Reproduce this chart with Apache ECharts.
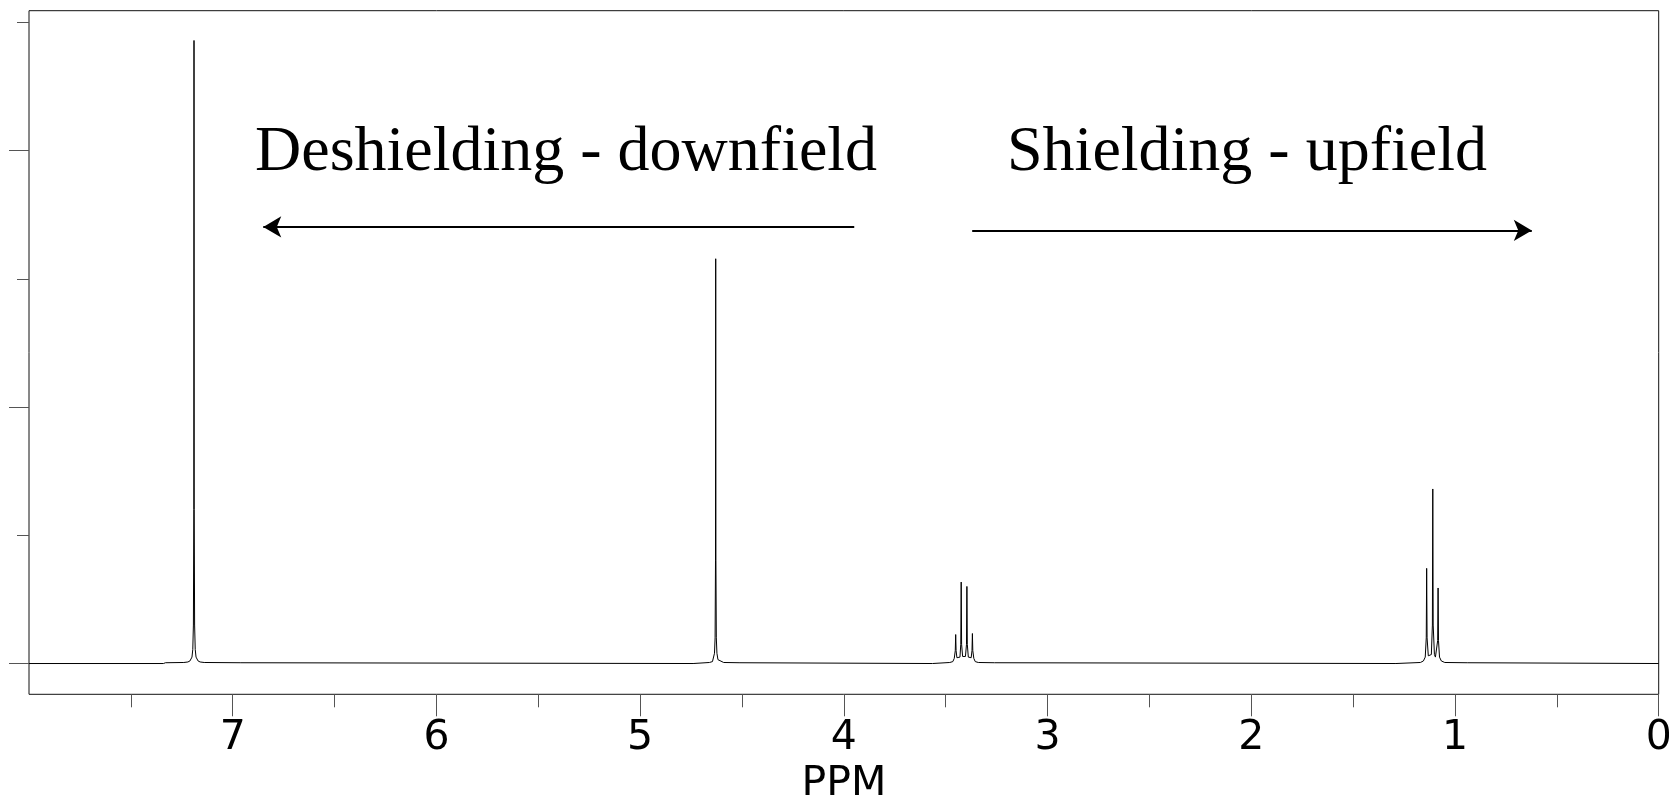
<!DOCTYPE html>
<html>
<head>
<meta charset="utf-8">
<title>1H NMR spectrum</title>
<script src="https://cdn.jsdelivr.net/npm/echarts@6/dist/echarts.min.js"></script>
<style>
  html, body { margin: 0; padding: 0; background: #fff; }
  #chart { width: 1669px; height: 799px; }
</style>
</head>
<body>
<div id="chart"></div>
<script>
// chemical shift (ppm) and relative intensity
const ppm = [
  8.00, 7.34, 7.33, 7.24, 7.22, 7.21, 7.20, 7.196, 7.193, 7.191, 7.190, 7.189, 7.187, 7.184, 7.180, 7.170, 7.160, 7.140, 6.96, 6.955,
  4.74, 4.735, 4.66, 4.645, 4.64, 4.635, 4.632, 4.630, 4.629, 4.628, 4.626, 4.623, 4.618, 4.61, 4.59, 4.51, 4.505,
  3.565, 3.56, 3.48, 3.465, 3.458, 3.453, 3.451, 3.449, 3.445, 3.4375, 3.43, 3.426, 3.424, 3.422, 3.417, 3.41,
  3.403, 3.398, 3.396, 3.394, 3.389, 3.3825, 3.375, 3.371, 3.369, 3.367, 3.362, 3.355, 3.34, 3.26, 3.255,
  1.29, 1.285, 1.17, 1.155, 1.146, 1.141, 1.139, 1.137, 1.131, 1.124, 1.116, 1.111, 1.109, 1.107, 1.101, 1.096,
  1.089, 1.085, 1.083, 1.081, 1.076, 1.067, 1.05, 0.94, 0.935, 0.00
];
const intensity = [
  0, 0, 0.006, 0.008, 0.012, 0.02, 0.05, 0.11, 0.3, 1.2, 4.858, 1.2, 0.3, 0.11, 0.05, 0.02, 0.012, 0.008, 0.006, 0,
  0, 0.006, 0.008, 0.015, 0.03, 0.08, 0.2, 0.8, 3.156, 0.8, 0.2, 0.08, 0.03, 0.015, 0.008, 0.006, 0,
  0, 0.006, 0.008, 0.015, 0.04, 0.1, 0.226, 0.1, 0.045, 0.035, 0.05, 0.15, 0.635, 0.15, 0.055, 0.04,
  0.055, 0.15, 0.601, 0.15, 0.05, 0.035, 0.045, 0.1, 0.234, 0.1, 0.04, 0.015, 0.008, 0.006, 0,
  0, 0.006, 0.008, 0.02, 0.05, 0.2, 0.742, 0.2, 0.06, 0.045, 0.07, 0.3, 1.361, 0.3, 0.07, 0.05,
  0.06, 0.18, 0.589, 0.18, 0.05, 0.02, 0.008, 0.006, 0, 0
];

const majorPpmTicks = [0, 1, 2, 3, 4, 5, 6, 7];
const minorPpmTicks = [0.5, 1.5, 2.5, 3.5, 4.5, 5.5, 6.5, 7.5];
const majorIntensityTicks = [0, 2, 4];
const minorIntensityTicks = [1, 3, 5];

// annotation arrows: [from ppm, to ppm, intensity level]
const downfieldArrow = [3.949, 6.85, 3.404];
const upfieldArrow = [3.37, 0.623, 3.377];

const chart = echarts.init(document.getElementById('chart'));

const spectrum = ppm.map((p, i) => [p, intensity[i]]);

const yRange = { min: -0.24, max: 5.09 };
const tickColor = '#555';

const arrowLine = (a) => [
  { coord: [a[0], a[2]], symbol: 'none' },
  { coord: [a[1], a[2]], symbol: 'arrow' }
];

const option = {
  animation: false,
  grid: {
    left: 29,
    right: 10.3,
    top: 10.7,
    bottom: 104.7,
    show: true,
    borderColor: '#111',
    borderWidth: 1,
    containLabel: false,
    outerBoundsMode: 'none'
  },
  xAxis: [
    {
      type: 'value',
      min: 0,
      max: 8,
      inverse: true,
      position: 'bottom',
      name: 'PPM',
      nameLocation: 'middle',
      nameGap: 70,
      nameTextStyle: { fontFamily: 'DejaVu Sans', fontSize: 41, color: '#000' },
      axisLine: { show: false, onZero: false },
      splitLine: { show: false },
      axisTick: { length: 22, lineStyle: { color: tickColor, width: 1 }, customValues: majorPpmTicks },
      axisLabel: {
        customValues: majorPpmTicks,
        fontFamily: 'DejaVu Sans',
        fontSize: 41,
        color: '#000',
        margin: 24
      }
    },
    {
      type: 'value',
      min: 0,
      max: 8,
      inverse: true,
      position: 'bottom',
      axisLine: { show: false, onZero: false },
      splitLine: { show: false },
      axisLabel: { show: false },
      axisTick: { length: 13, lineStyle: { color: tickColor, width: 1 }, customValues: minorPpmTicks }
    }
  ],
  yAxis: [
    {
      type: 'value',
      min: yRange.min,
      max: yRange.max,
      position: 'left',
      axisLine: { show: false, onZero: false },
      splitLine: { show: false },
      axisLabel: { show: false },
      axisTick: { length: 20, lineStyle: { color: tickColor, width: 1 }, customValues: majorIntensityTicks }
    },
    {
      type: 'value',
      min: yRange.min,
      max: yRange.max,
      position: 'left',
      axisLine: { show: false, onZero: false },
      splitLine: { show: false },
      axisLabel: { show: false },
      axisTick: { length: 12, lineStyle: { color: tickColor, width: 1 }, customValues: minorIntensityTicks }
    }
  ],
  series: [
    {
      type: 'line',
      xAxisIndex: 0,
      yAxisIndex: 0,
      data: spectrum,
      showSymbol: false,
      symbol: 'none',
      lineStyle: { color: '#000', width: 1 },
      markLine: {
        silent: true,
        symbolSize: [16, 18],
        label: { show: false },
        lineStyle: { color: '#000', width: 2, type: 'solid' },
        data: [arrowLine(downfieldArrow), arrowLine(upfieldArrow)]
      }
    }
  ],
  graphic: [
    {
      type: 'text',
      left: 255,
      top: 121,
      style: { text: 'Deshielding - downfield', font: '64px "Liberation Serif"', fill: '#000' }
    },
    {
      type: 'text',
      left: 1007,
      top: 121,
      style: { text: 'Shielding - upfield', font: '64px "Liberation Serif"', fill: '#000' }
    }
  ]
};

chart.setOption(option);
</script>
</body>
</html>
